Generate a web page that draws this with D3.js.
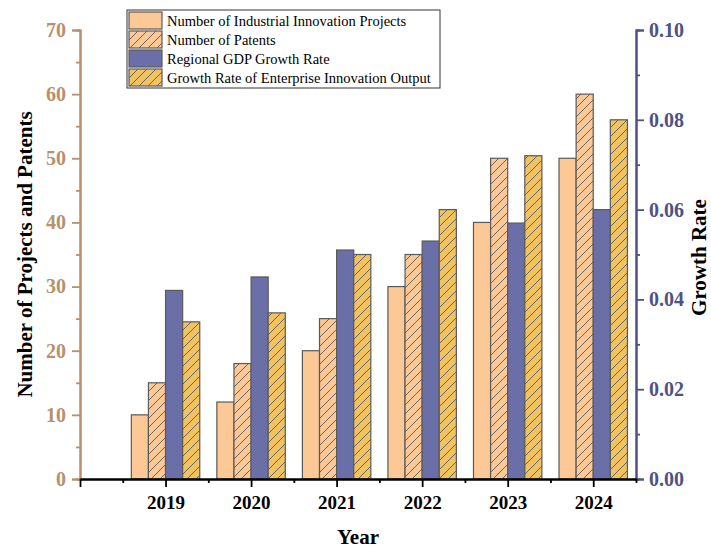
<!DOCTYPE html>
<html>
<head>
<meta charset="utf-8">
<script src="https://cdn.jsdelivr.net/npm/d3@7/dist/d3.min.js"></script>
<style>
  html, body { margin: 0; padding: 0; background: #fff; }
  svg { display: block; }
  text { font-family: "Liberation Serif", "Times New Roman", serif; }
</style>
</head>
<body>
<div id="chart"></div>
<script>
// Yearly indicators: counts on the left axis, growth rates on the right axis
const years = [2019, 2020, 2021, 2022, 2023, 2024];
const projects = [10, 12, 20, 30, 40, 50];
const patents = [15, 18, 25, 35, 50, 60];
const gdpGrowth = [0.042, 0.045, 0.051, 0.053, 0.057, 0.060];
const enterpriseGrowth = [0.035, 0.037, 0.050, 0.060, 0.072, 0.080];

const leftTicks = [0, 10, 20, 30, 40, 50, 60, 70];
const rightTicks = [0.00, 0.02, 0.04, 0.06, 0.08, 0.10];

const seriesNames = [
  "Number of Industrial Innovation Projects",
  "Number of Patents",
  "Regional GDP Growth Rate",
  "Growth Rate of Enterprise Innovation Output"
];

const W = 711, H = 549;
const margin = { top: 30, right: 75, bottom: 70, left: 80 };

const leftColor = "#b8906c";
const rightColor = "#4f5282";
const fills = ["#fcc896", "#fcc896", "#6b6fa8", "#f0c262"];
const strokeCol = "#5a5a5a";

const svg = d3.select("#chart").append("svg")
  .attr("width", W).attr("height", H);

// Diagonal hatch patterns for the patent and enterprise-output bars
const defs = svg.append("defs");
[[1, "hatchPeach"], [3, "hatchGold"]].forEach(([i, id]) => {
  const p = defs.append("pattern")
    .attr("id", id)
    .attr("patternUnits", "userSpaceOnUse")
    .attr("width", 9).attr("height", 9);
  p.append("rect").attr("width", 9).attr("height", 9).attr("fill", fills[i]);
  p.append("path")
    .attr("d", "M0,9 L9,0 M-2,2 L2,-2 M7,11 L11,7")
    .attr("stroke", "#5a5a5a").attr("stroke-width", 0.9);
});
const fillFor = i => i === 1 ? "url(#hatchPeach)" : i === 3 ? "url(#hatchGold)" : fills[i];

const x = d3.scaleLinear()
  .domain([2018, 2024.5])
  .range([margin.left, W - margin.right]);
const yL = d3.scaleLinear().domain([0, 70]).range([H - margin.bottom, margin.top]);
const yR = d3.scaleLinear().domain([0, 0.10]).range([H - margin.bottom, margin.top]);

// Bars: four per year, each 0.2 year wide, centred on the year
const series = [
  { vals: projects, scale: yL },
  { vals: patents, scale: yL },
  { vals: gdpGrowth, scale: yR },
  { vals: enterpriseGrowth, scale: yR }
];
const barW = 0.2;
series.forEach((s, i) => {
  svg.append("g").selectAll("rect")
    .data(years.map((yr, k) => ({ yr, v: s.vals[k] })))
    .join("rect")
    .attr("x", d => x(d.yr - 0.4 + i * barW))
    .attr("width", d => x(d.yr - 0.4 + (i + 1) * barW) - x(d.yr - 0.4 + i * barW))
    .attr("y", d => s.scale(d.v))
    .attr("height", d => s.scale(0) - s.scale(d.v))
    .attr("fill", fillFor(i))
    .attr("stroke", strokeCol)
    .attr("stroke-width", 1.2);
});

// Left axis
const gL = svg.append("g").attr("transform", `translate(${margin.left},0)`);
gL.call(d3.axisLeft(yL).tickValues(d3.range(5, 70, 10)).tickSize(4).tickFormat(""));
gL.call(g => g.append("g").call(d3.axisLeft(yL).tickValues(leftTicks).tickSize(8).tickPadding(6)));
gL.selectAll("path.domain").attr("stroke", leftColor).attr("stroke-width", 2);
gL.selectAll("line").attr("stroke", leftColor).attr("stroke-width", 1.8);
gL.selectAll("text").attr("fill", leftColor).attr("font-size", 20).attr("font-weight", "bold")
  .style("font-family", "Liberation Serif, serif");

// Right axis
const gR = svg.append("g").attr("transform", `translate(${W - margin.right},0)`);
gR.call(d3.axisRight(yR).tickValues(d3.range(0.01, 0.1, 0.02)).tickSize(4).tickFormat(""));
gR.call(g => g.append("g").call(d3.axisRight(yR).tickValues(rightTicks).tickSize(8).tickPadding(5)
  .tickFormat(d3.format(".2f"))));
gR.selectAll("path.domain").attr("stroke", rightColor).attr("stroke-width", 2);
gR.selectAll("line").attr("stroke", rightColor).attr("stroke-width", 1.8);
gR.selectAll("text").attr("fill", rightColor).attr("font-size", 20).attr("font-weight", "bold")
  .style("font-family", "Liberation Serif, serif");

// Bottom axis: major ticks on years, minor ticks halfway between
const gX = svg.append("g").attr("transform", `translate(0,${H - margin.bottom})`);
gX.call(d3.axisBottom(x).tickValues(d3.range(2018.5, 2025, 1)).tickSize(4).tickFormat("").tickSizeOuter(0));
gX.call(g => g.append("g").call(d3.axisBottom(x).tickValues([2018].concat(years)).tickSize(8).tickPadding(9)
  .tickSizeOuter(0).tickFormat(d => years.includes(d) ? String(d) : "")));
gX.selectAll("path.domain").attr("stroke", "#000").attr("stroke-width", 2);
gX.selectAll("line").attr("stroke", "#000").attr("stroke-width", 1.8);
gX.selectAll("text").attr("fill", "#000").attr("font-size", 19).attr("font-weight", "bold")
  .style("font-family", "Liberation Serif, serif");

// Axis titles
svg.append("text")
  .attr("transform", `translate(32,${(margin.top + H - margin.bottom) / 2}) rotate(-90)`)
  .attr("text-anchor", "middle")
  .attr("font-size", 21).attr("font-weight", "bold").attr("fill", "#000")
  .text("Number of Projects and Patents");
svg.append("text")
  .attr("transform", `translate(706,${(margin.top + H - margin.bottom) / 2 + 3}) rotate(-90)`)
  .attr("text-anchor", "middle")
  .attr("font-size", 21).attr("font-weight", "bold").attr("fill", "#000")
  .text("Growth Rate");
svg.append("text")
  .attr("x", (margin.left + W - margin.right) / 2)
  .attr("y", 544)
  .attr("text-anchor", "middle")
  .attr("font-size", 21).attr("font-weight", "bold").attr("fill", "#000")
  .text("Year");

// Legend
const lg = svg.append("g").attr("transform", "translate(127,10)");
lg.append("rect").attr("width", 313).attr("height", 78)
  .attr("fill", "#fff").attr("stroke", "#333").attr("stroke-width", 1);
seriesNames.forEach((name, i) => {
  const row = lg.append("g").attr("transform", `translate(2,${2 + i * 19})`);
  row.append("rect").attr("width", 33).attr("height", 17)
    .attr("fill", fillFor(i)).attr("stroke", strokeCol).attr("stroke-width", 1.2);
  row.append("text").attr("x", 38).attr("y", 13.5)
    .attr("font-size", 14.5).attr("fill", "#000").text(name);
});
</script>
</body>
</html>
